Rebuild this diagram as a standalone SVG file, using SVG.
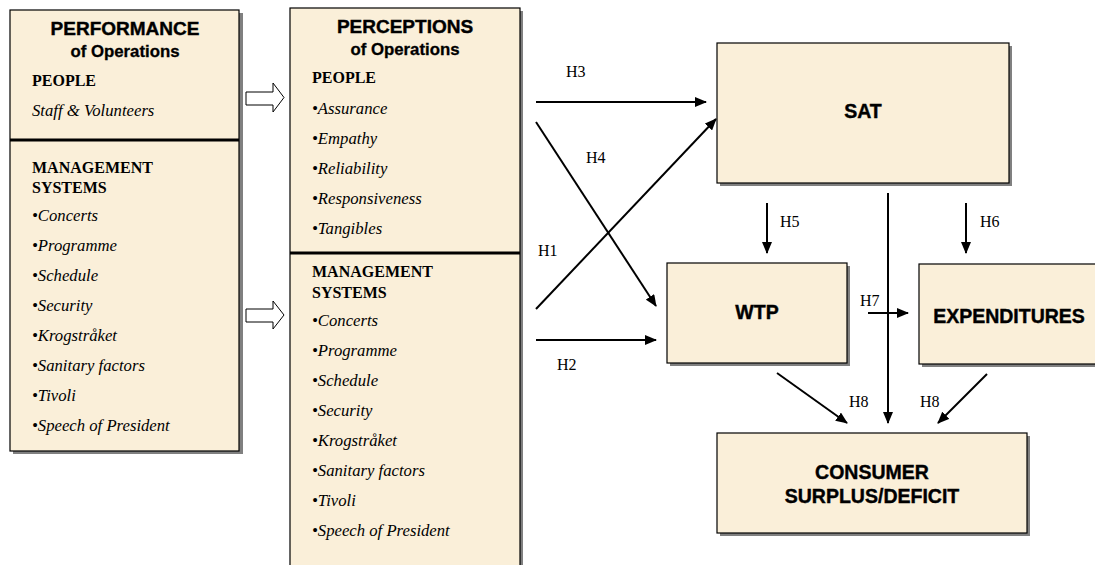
<svg xmlns="http://www.w3.org/2000/svg" width="1095" height="565" viewBox="0 0 1095 565">
<defs>
<style>
.box{fill:#FAEFD9;stroke:#000;stroke-width:1.2}
.shadow{fill:#808080}
.div{stroke:#000;stroke-width:3}
.h1{font-family:"Liberation Sans",Arial,sans-serif;font-weight:bold;font-size:19px;text-anchor:middle;fill:#000;stroke:#000;stroke-width:0.4}
.h2{font-family:"Liberation Sans",Arial,sans-serif;font-weight:bold;font-size:16.8px;text-anchor:middle;fill:#000;stroke:#000;stroke-width:0.3}
.sec{font-family:"Liberation Serif","Times New Roman",serif;font-weight:bold;font-size:16px;fill:#000}
.it{font-family:"Liberation Serif","Times New Roman",serif;font-style:italic;font-size:16.7px;fill:#000}
.lbl{font-family:"Liberation Serif","Times New Roman",serif;font-size:16px;fill:#000}
.big{font-family:"Liberation Sans",Arial,sans-serif;font-weight:bold;font-size:19.5px;text-anchor:middle;fill:#000;stroke:#000;stroke-width:0.4}
.c{stroke:#000;stroke-width:2;fill:none}
.hollow{fill:#fff;stroke:#000;stroke-width:1}
</style>
<marker id="ah" markerWidth="12" markerHeight="10" refX="11" refY="5" orient="auto" markerUnits="userSpaceOnUse">
<path d="M0,0 L12,5 L0,10 Z" fill="#000"/>
</marker>
</defs>
<rect width="1095" height="565" fill="#fff"/>

<g id="performance">
<rect class="shadow" x="13" y="13" width="230" height="441"/>
<rect class="box" x="10" y="10" width="229" height="441"/>
<line class="div" x1="10" y1="140" x2="239" y2="140"/>
<text class="h1" x="125" y="35">PERFORMANCE</text>
<text class="h2" x="125" y="57">of Operations</text>
<text class="sec" x="32" y="86">PEOPLE</text>
<text class="it" x="32" y="116">Staff &amp; Volunteers</text>
<text class="sec" x="32" y="173">MANAGEMENT</text>
<text class="sec" x="32" y="193">SYSTEMS</text>
<text class="it" x="32" y="221">•Concerts</text>
<text class="it" x="32" y="251">•Programme</text>
<text class="it" x="32" y="281">•Schedule</text>
<text class="it" x="32" y="311">•Security</text>
<text class="it" x="32" y="341">•Krogstråket</text>
<text class="it" x="32" y="371">•Sanitary factors</text>
<text class="it" x="32" y="401">•Tivoli</text>
<text class="it" x="32" y="431">•Speech of President</text>
</g>

<g id="perceptions">
<rect class="shadow" x="293" y="11" width="230" height="565"/>
<rect class="box" x="290" y="8" width="230" height="565"/>
<line class="div" x1="290" y1="253" x2="520" y2="253"/>
<text class="h1" x="405" y="33">PERCEPTIONS</text>
<text class="h2" x="405" y="55">of Operations</text>
<text class="sec" x="312" y="83">PEOPLE</text>
<text class="it" x="312" y="114">•Assurance</text>
<text class="it" x="312" y="144">•Empathy</text>
<text class="it" x="312" y="174">•Reliability</text>
<text class="it" x="312" y="204">•Responsiveness</text>
<text class="it" x="312" y="234">•Tangibles</text>
<text class="sec" x="312" y="277">MANAGEMENT</text>
<text class="sec" x="312" y="298">SYSTEMS</text>
<text class="it" x="312" y="326">•Concerts</text>
<text class="it" x="312" y="356">•Programme</text>
<text class="it" x="312" y="386">•Schedule</text>
<text class="it" x="312" y="416">•Security</text>
<text class="it" x="312" y="446">•Krogstråket</text>
<text class="it" x="312" y="476">•Sanitary factors</text>
<text class="it" x="312" y="506">•Tivoli</text>
<text class="it" x="312" y="536">•Speech of President</text>
</g>

<g id="sat">
<rect class="shadow" x="720" y="46" width="292" height="140"/>
<rect class="box" x="717" y="43" width="292" height="140"/>
<text class="big" x="863" y="118">SAT</text>
</g>

<g id="wtp">
<rect class="shadow" x="670" y="266" width="180" height="100"/>
<rect class="box" x="667" y="263" width="180" height="100"/>
<text class="big" x="757" y="319">WTP</text>
</g>

<g id="expenditures">
<rect class="shadow" x="922" y="267" width="180" height="100"/>
<rect class="box" x="919" y="264" width="180" height="100"/>
<text class="big" x="1009" y="323">EXPENDITURES</text>
</g>

<g id="consumer">
<rect class="shadow" x="720" y="436" width="310" height="100"/>
<rect class="box" x="717" y="433" width="310" height="100"/>
<text class="big" x="872" y="479">CONSUMER</text>
<text class="big" x="872" y="503">SURPLUS/DEFICIT</text>
</g>

<g id="connectors">
<polygon class="hollow" points="246,92 273,92 273,83 284,97.5 273,112 273,105 246,105"/>
<polygon class="hollow" points="246,309 273,309 273,301 284,315 273,329 273,322 246,322"/>
<line class="c" x1="536" y1="102" x2="706" y2="102" marker-end="url(#ah)"/>
<line class="c" x1="536" y1="122" x2="656" y2="306" marker-end="url(#ah)"/>
<line class="c" x1="536" y1="309" x2="716" y2="119" marker-end="url(#ah)"/>
<line class="c" x1="536" y1="340" x2="656" y2="340" marker-end="url(#ah)"/>
<line class="c" x1="767" y1="203" x2="767" y2="253" marker-end="url(#ah)"/>
<line class="c" x1="966" y1="203" x2="966" y2="253" marker-end="url(#ah)"/>
<line class="c" x1="888" y1="193" x2="888" y2="423" marker-end="url(#ah)"/>
<line class="c" x1="868" y1="313" x2="908" y2="313" marker-end="url(#ah)"/>
<line class="c" x1="777" y1="373" x2="847" y2="423" marker-end="url(#ah)"/>
<line class="c" x1="987" y1="374" x2="938" y2="423" marker-end="url(#ah)"/>
<text class="lbl" x="566" y="77">H3</text>
<text class="lbl" x="586" y="163">H4</text>
<text class="lbl" x="538" y="256">H1</text>
<text class="lbl" x="557" y="370">H2</text>
<text class="lbl" x="780" y="227">H5</text>
<text class="lbl" x="980" y="227">H6</text>
<text class="lbl" x="860" y="306">H7</text>
<text class="lbl" x="849" y="407">H8</text>
<text class="lbl" x="920" y="407">H8</text>
</g>
</svg>
